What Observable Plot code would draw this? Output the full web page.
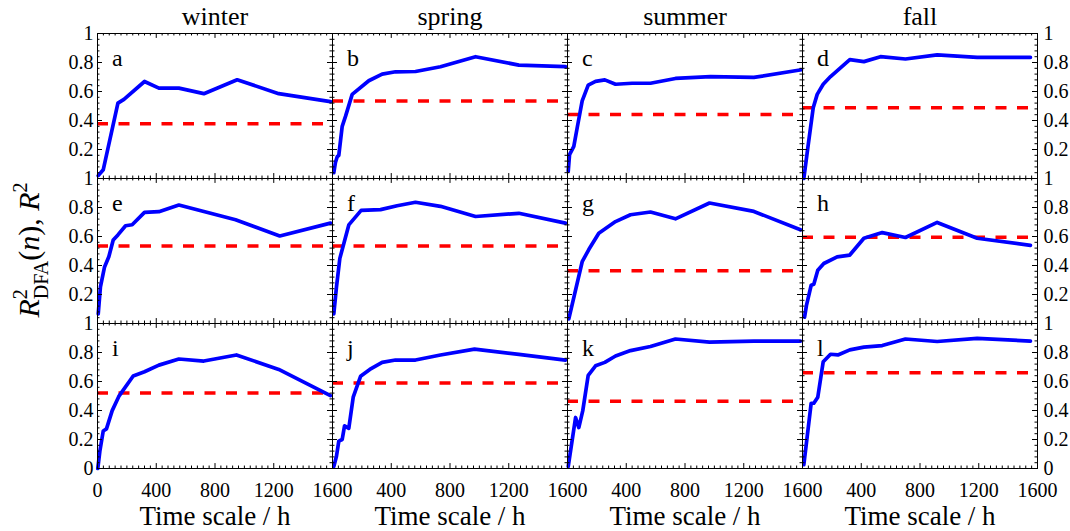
<!DOCTYPE html>
<html><head><meta charset="utf-8">
<script src="https://cdn.jsdelivr.net/npm/d3@7"></script>
<script src="https://cdn.jsdelivr.net/npm/@observablehq/plot@0.6"></script>
<style>
html,body{margin:0;padding:0;background:#fff;}
#chart{width:1070px;height:531px;}
</style></head><body><div id="chart"></div>
<script>
const seasons = ["winter", "spring", "summer", "fall"];
const panelLetters = ["a","b","c","d","e","f","g","h","i","j","k","l"];

// blue curves: [time scale (h), R2_DFA(n)]
const seriesA = [[5,0.02],[39,0.06],[139,0.52],[180,0.546],[320,0.669],[418,0.623],[554,0.623],[724,0.585],[951,0.681],[1234,0.585],[1586,0.53]];
const seriesB = [[9,0.04],[20,0.11],[32,0.15],[43,0.16],[66,0.36],[89,0.43],[134,0.58],[247,0.674],[338,0.72],[429,0.736],[565,0.738],[735,0.771],[974,0.84],[1269,0.782],[1586,0.771]];
const seriesC = [[5,0.05],[14,0.165],[43,0.222],[66,0.35],[100,0.535],[141,0.644],[191,0.67],[254,0.68],[327,0.65],[440,0.657],[565,0.657],[735,0.69],[974,0.703],[1269,0.697],[1593,0.75]];
const seriesD = [[9,0.0],[36,0.21],[73,0.488],[100,0.58],[141,0.65],[191,0.703],[322,0.82],[418,0.806],[531,0.84],[701,0.824],[917,0.852],[1189,0.836],[1552,0.836]];
const seriesE = [[5,0.067],[20,0.252],[48,0.39],[77,0.46],[107,0.576],[139,0.611],[191,0.674],[236,0.681],[320,0.766],[418,0.771],[554,0.817],[940,0.715],[1241,0.604],[1586,0.692]];
const seriesF = [[9,0.067],[27,0.252],[50,0.449],[111,0.68],[195,0.78],[327,0.785],[440,0.812],[565,0.836],[735,0.808],[974,0.738],[1269,0.76],[1586,0.692]];
const seriesG = [[9,0.032],[100,0.426],[145,0.51],[213,0.623],[327,0.703],[429,0.75],[565,0.769],[735,0.722],[967,0.831],[1269,0.773],[1586,0.646]];
const seriesH = [[14,0.044],[27,0.125],[59,0.264],[77,0.27],[104,0.368],[145,0.414],[236,0.46],[322,0.472],[418,0.588],[543,0.627],[701,0.593],[917,0.697],[1189,0.588],[1552,0.539]];
const seriesI = [[2,0.0],[16,0.119],[39,0.259],[61,0.273],[100,0.399],[145,0.497],[243,0.638],[320,0.667],[418,0.713],[554,0.755],[724,0.741],[946,0.783],[1234,0.683],[1586,0.503]];
const seriesJ = [[9,0.014],[27,0.084],[43,0.189],[66,0.2],[82,0.294],[111,0.277],[141,0.492],[191,0.636],[254,0.683],[338,0.732],[429,0.748],[565,0.748],[735,0.783],[967,0.823],[1269,0.787],[1586,0.748]];
const seriesK = [[5,0.014],[55,0.352],[77,0.282],[104,0.399],[141,0.643],[191,0.708],[254,0.732],[327,0.776],[429,0.813],[565,0.841],[735,0.893],[967,0.872],[1269,0.879],[1586,0.879]];
const seriesL = [[9,0.026],[59,0.45],[77,0.45],[104,0.492],[141,0.736],[191,0.788],[241,0.783],[322,0.818],[418,0.837],[543,0.848],[701,0.893],[917,0.876],[1189,0.897],[1552,0.879]];

// red dashed reference levels R2
const thresholds = [0.377, 0.535, 0.442, 0.488, 0.535, 0.535, 0.363, 0.595, 0.52, 0.59, 0.464, 0.66];

// ticks
const xTickLabels = [0, 400, 800, 1200, 1600];
const yTickLabels = [0, 0.2, 0.4, 0.6, 0.8, 1];
const xMinorStep = 40;
const yMinorStep = 0.04;

const allSeries = [seriesA, seriesB, seriesC, seriesD, seriesE, seriesF, seriesG, seriesH, seriesI, seriesJ, seriesK, seriesL];
const facetOf = i => ({season: seasons[i % 4], row: Math.floor(i / 4)});

const lineData = allSeries.flatMap((s, i) => s.map(([h, v]) => ({...facetOf(i), h, v})));
const threshData = thresholds.map((v, i) => ({...facetOf(i), v, x2: allSeries[i][allSeries[i].length - 1][0]}));
const letterData = panelLetters.map((letter, i) => ({...facetOf(i), letter}));

const xMinor = d3.range(0, 1600.001, xMinorStep).filter(t => !xTickLabels.includes(Math.round(t)));
const yMinor = d3.range(0, 1.0001, yMinorStep).map(v => +v.toFixed(2)).filter(v => !yTickLabels.includes(v));

const xMajLen = 0.034, xMinLen = 0.017, yMajLen = 34, yMinLen = 17;
const xTickSegs = [
  ...xTickLabels.flatMap(t => [{x: t, y1: 0, y2: xMajLen}, {x: t, y1: 1, y2: 1 - xMajLen}]),
  ...xMinor.flatMap(t => [{x: t, y1: 0, y2: xMinLen}, {x: t, y1: 1, y2: 1 - xMinLen}])
];
const yTickSegs = [
  ...yTickLabels.flatMap(v => [{y: v, x1: 0, x2: yMajLen}, {y: v, x1: 1600, x2: 1600 - yMajLen}]),
  ...yMinor.flatMap(v => [{y: v, x1: 0, x2: yMinLen}, {y: v, x1: 1600, x2: 1600 - yMinLen}])
];

const fmt = v => String(v);
const yLabelData = [0, 1, 2].flatMap(row =>
  yTickLabels.filter(v => row === 2 || v > 0).flatMap(v => [
    {season: "winter", row, v, side: "left"},
    {season: "fall", row, v, side: "right"}
  ]));
const xLabelData = seasons.flatMap((season, c) =>
  xTickLabels.filter(t => c === 0 || t > 0).map(t => ({season, row: 2, t})));
const titleData = seasons.map(season => ({season, row: 0}));
const xTitleData = seasons.map(season => ({season, row: 2}));

const plot = Plot.plot({
  width: 1070,
  height: 531,
  marginLeft: 97,
  marginRight: 33,
  marginTop: 33,
  marginBottom: 63,
  x: {domain: [0, 1600], axis: null},
  y: {domain: [0, 1], axis: null},
  fx: {domain: seasons, padding: 0, axis: null},
  fy: {domain: [0, 1, 2], padding: 0, axis: null},
  style: {fontFamily: "'Liberation Serif', 'Times New Roman', serif", fontSize: "20px", color: "#000", background: "#fff"},
  marks: [
    Plot.ruleY(threshData, {fx: "season", fy: "row", y: "v", x1: 0, x2: "x2", stroke: "#ff0000", strokeWidth: 3.5, strokeDasharray: "11,10.5"}),
    Plot.line(lineData, {fx: "season", fy: "row", x: "h", y: "v", stroke: "#0000ff", strokeWidth: 3.7, strokeLinejoin: "round"}),
    Plot.ruleX(xTickSegs, {x: "x", y1: "y1", y2: "y2", stroke: "#000", strokeWidth: 1}),
    Plot.ruleY(yTickSegs, {y: "y", x1: "x1", x2: "x2", stroke: "#000", strokeWidth: 1}),
    Plot.frame({stroke: "#000", strokeWidth: 1}),
    Plot.text(letterData, {fx: "season", fy: "row", text: "letter", frameAnchor: "top-left", dx: 14.5, dy: 25, textAnchor: "start", lineAnchor: "middle", fontSize: 24}),
    Plot.text(yLabelData.filter(d => d.side === "left"), {fx: "season", fy: "row", y: "v", text: d => fmt(d.v), frameAnchor: "left", textAnchor: "end", dx: -4, fontSize: 20}),
    Plot.text(yLabelData.filter(d => d.side === "right"), {fx: "season", fy: "row", y: "v", text: d => fmt(d.v), frameAnchor: "right", textAnchor: "start", dx: 6, fontSize: 20}),
    Plot.text(xLabelData, {fx: "season", fy: "row", x: "t", text: d => String(d.t), frameAnchor: "bottom", lineAnchor: "middle", dy: 22, fontSize: 20}),
    Plot.text(xTitleData, {fx: "season", fy: "row", text: () => "Time scale / h", frameAnchor: "bottom", lineAnchor: "middle", dy: 48, fontSize: 27}),
    Plot.text(titleData, {fx: "season", fy: "row", text: "season", frameAnchor: "top", lineAnchor: "middle", dy: -17, fontSize: 26})
  ]
});

// y-axis title R^2_DFA(n), R^2
const svg = d3.select(plot);
const t = svg.append("text")
  .attr("transform", "translate(39,250) rotate(-90)")
  .attr("text-anchor", "middle")
  .attr("font-family", "'Liberation Serif', 'Times New Roman', serif")
  .attr("font-size", 30)
  .attr("fill", "#000");
t.append("tspan").attr("font-style", "italic").text("R");
t.append("tspan").attr("font-size", 20).attr("dy", -12).text("2");
t.append("tspan").attr("font-size", 20).attr("dx", -10).attr("dy", 21).text("DFA");
t.append("tspan").attr("dy", -9).text("(");
t.append("tspan").attr("font-style", "italic").text("n");
t.append("tspan").text("), ");
t.append("tspan").attr("font-style", "italic").text("R");
t.append("tspan").attr("font-size", 20).attr("dy", -12).text("2");

document.getElementById("chart").appendChild(plot);
</script>
</body></html>
